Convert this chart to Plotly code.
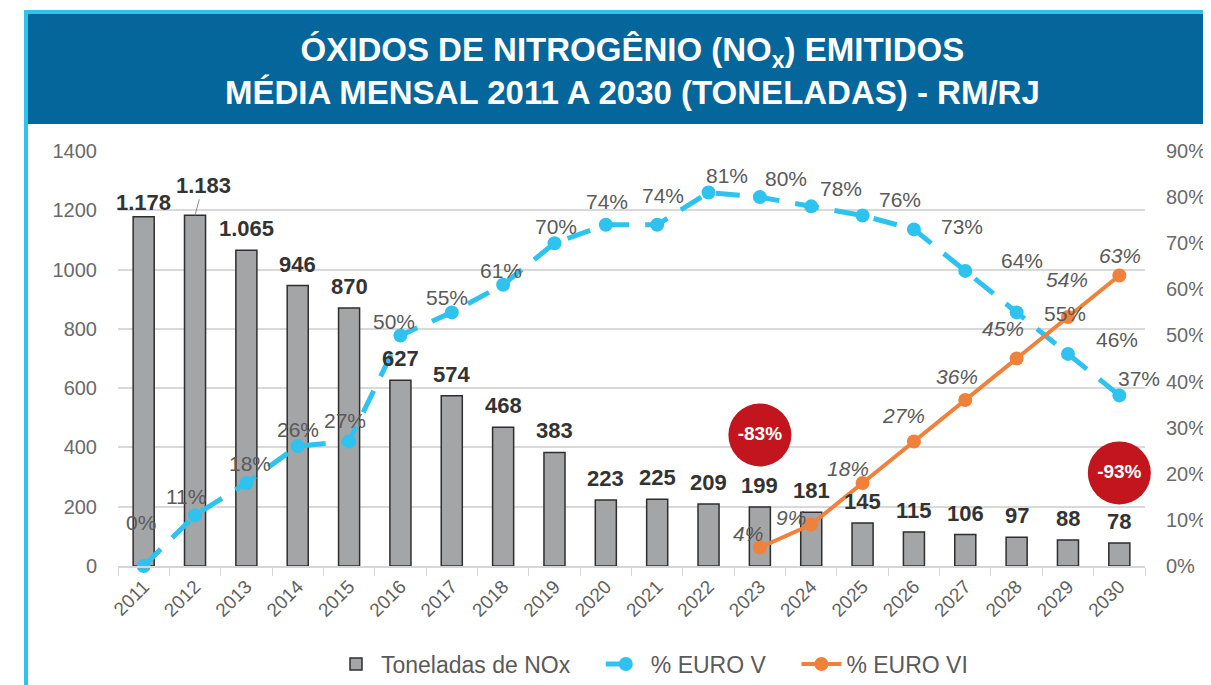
import plotly.graph_objects as go

# ---------------- data ----------------
years = [str(y) for y in range(2011, 2031)]
nox_tons = [1178, 1183, 1065, 946, 870, 627, 574, 468, 383, 223,
            225, 209, 199, 181, 145, 115, 106, 97, 88, 78]
euro5_pct = [0, 11, 18, 26, 27, 50, 55, 61, 70, 74,
             74, 81, 80, 78, 76, 73, 64, 55, 46, 37]
euro6_years = [str(y) for y in range(2023, 2031)]
euro6_pct = [4, 9, 18, 27, 36, 45, 54, 63]
callout_years = ["2023", "2030"]
callout_text = ["-83%", "-93%"]

# ---------------- styling / layout constants ----------------
OFF = 8                       # page offset of the figure (body margin)
FW, FH = 1203, 677            # figure size
PL, PR, PT, PB = 118, 1145, 151, 566   # plot area in page pixels


def px_x(p):
    return (p - PL) / (PR - PL)


def px_y(p):
    return (PB - p) / (PB - PT)


FONT = "Liberation Sans, Arial, sans-serif"
CYAN = "#2DC3EE"
ORANGE = "#F0813B"
NAVY = "#05669B"
RED = "#C2151D"
TXT = "#5A5A5A"
NB = "\u00a0"

# label offsets in pixels (dx, dy up)
e5_off = [(-3, 44), (-9, 19), (4, 20), (0, 17), (-4, 21), (-6, 14), (-5, 15),
          (-2, 14), (2, 17), (1, 23), (6, 29), (18, 17), (26, 19), (30, 18),
          (37, 16), (48, 3), (57, 10), (48, -1), (49, 14), (20, 17)]
e6_off = [(-12, 14), (-20, 7), (-15, 15), (-10, 26), (-8, 24), (-14, 30),
          (-1, 38), (1, 20)]

fig = go.Figure()

fig.add_trace(go.Bar(
    x=years, y=nox_tons, name="Toneladas de NOx" + NB * 4,
    marker=dict(color="#A3A5A7", line=dict(color="#2E2E2E", width=1.5)),
    yaxis="y",
))

fig.add_trace(go.Scatter(
    x=years, y=[v / 100 for v in euro5_pct], name="% EURO V" + NB * 4,
    mode="lines+markers",
    line=dict(color=CYAN, width=5, dash="24px,16px"),
    marker=dict(color=CYAN, size=14),
    yaxis="y2", cliponaxis=False,
))

fig.add_trace(go.Scatter(
    x=euro6_years, y=[v / 100 for v in euro6_pct], name="% EURO VI",
    mode="lines+markers",
    line=dict(color=ORANGE, width=4),
    marker=dict(color=ORANGE, size=14),
    yaxis="y2", cliponaxis=False,
))

callout_y = [442, 314]
fig.add_trace(go.Scatter(
    x=callout_years, y=callout_y, mode="markers+text",
    marker=dict(color=RED, size=63),
    text=[f"<b>{t}</b>" for t in callout_text], textposition="middle center",
    textfont=dict(family=FONT, size=19, color="white"),
    showlegend=False, hoverinfo="skip", yaxis="y", cliponaxis=False,
))

annotations = []
for i, (yr, v) in enumerate(zip(years, nox_tons)):
    lab = f"{v:,}".replace(",", ".")
    if yr == "2012":
        annotations.append(dict(
            x=i, y=v, xref="x", yref="y", text=f"<b>{lab}</b>",
            showarrow=True, ax=8, ay=-30, arrowhead=0, arrowwidth=1,
            arrowcolor="#8a8a8a", standoff=0,
            font=dict(family=FONT, size=22, color="#333333")))
    else:
        annotations.append(dict(
            x=i, y=v, xref="x", yref="y", text=f"<b>{lab}</b>",
            showarrow=False, yanchor="bottom",
            yshift=0 if yr == "2011" else 7,
            font=dict(family=FONT, size=22, color="#333333")))

for i, v in enumerate(euro5_pct):
    dx, dy = e5_off[i]
    annotations.append(dict(
        x=i, y=v / 100, xref="x", yref="y2", text=f"{v}%",
        showarrow=False, xanchor="center", yanchor="middle",
        xshift=dx, yshift=dy,
        font=dict(family=FONT, size=21, color=TXT)))

start = years.index(euro6_years[0])
for k, v in enumerate(euro6_pct):
    dx, dy = e6_off[k]
    annotations.append(dict(
        x=start + k, y=v / 100, xref="x", yref="y2", text=f"<i>{v}%</i>",
        showarrow=False, xanchor="center", yanchor="middle",
        xshift=dx, yshift=dy,
        font=dict(family=FONT, size=21, color=TXT)))

annotations.append(dict(
    x=px_x(632), y=px_y(71), xref="paper", yref="paper",
    xanchor="center", yanchor="middle", showarrow=False,
    text="<b>ÓXIDOS DE NITROGÊNIO (NO<sub>x</sub>) EMITIDOS</b><br>"
         "<b>MÉDIA MENSAL 2011 A 2030 (TONELADAS) - RM/RJ</b>",
    font=dict(family=FONT, size=33, color="white"),
))

shapes = [
    dict(type="rect", xref="paper", yref="paper",
         x0=px_x(28), x1=px_x(1215), y0=px_y(124), y1=px_y(14),
         fillcolor=NAVY, line=dict(width=0), layer="below"),
    dict(type="rect", xref="paper", yref="paper",
         x0=px_x(24), x1=px_x(1215), y0=px_y(14), y1=px_y(10),
         fillcolor=CYAN, line=dict(width=0), layer="below"),
    dict(type="rect", xref="paper", yref="paper",
         x0=px_x(24), x1=px_x(28), y0=px_y(690), y1=px_y(10),
         fillcolor=CYAN, line=dict(width=0), layer="below"),
]

fig.update_layout(
    width=FW, height=FH, autosize=False,
    margin=dict(l=PL - OFF, r=OFF + FW - PR, t=PT - OFF, b=OFF + FH - PB,
                pad=0, autoexpand=False),
    paper_bgcolor="white", plot_bgcolor="white",
    font=dict(family=FONT, size=20, color=TXT),
    bargap=0.59,
    xaxis=dict(
        type="category", categoryorder="array", categoryarray=years,
        range=[-0.5, len(years) - 0.5], tickangle=-45, automargin=False,
        tickfont=dict(family=FONT, size=19, color="#5f5f5f"),
        showline=True, linecolor="#D6D6D6", linewidth=2,
        ticks="outside", tickson="boundaries", ticklen=8, tickcolor="#D6D6D6",
        showgrid=False, zeroline=False,
    ),
    yaxis=dict(
        range=[0, 1400], dtick=200, tickformat="d", automargin=False,
        tickfont=dict(family=FONT, size=20, color="#6a6a6a"),
        showgrid=True, gridcolor="#D9D9D9", gridwidth=1.5,
        zeroline=False, showline=False, ticklabelstandoff=20,
    ),
    yaxis2=dict(
        range=[0, 0.9], dtick=0.1, tickformat=".0%", automargin=False,
        overlaying="y", side="right",
        tickfont=dict(family=FONT, size=20, color="#6a6a6a"),
        showgrid=False, zeroline=False, showline=False, ticklabelstandoff=20,
    ),
    legend=dict(
        orientation="h", x=px_x(652), xanchor="center",
        y=px_y(664), yanchor="middle",
        font=dict(family=FONT, size=23, color=TXT),
        bgcolor="rgba(0,0,0,0)", traceorder="normal", itemwidth=40,
    ),
    annotations=annotations,
    shapes=shapes,
    showlegend=True,
)

fig.write_html("out.html")
